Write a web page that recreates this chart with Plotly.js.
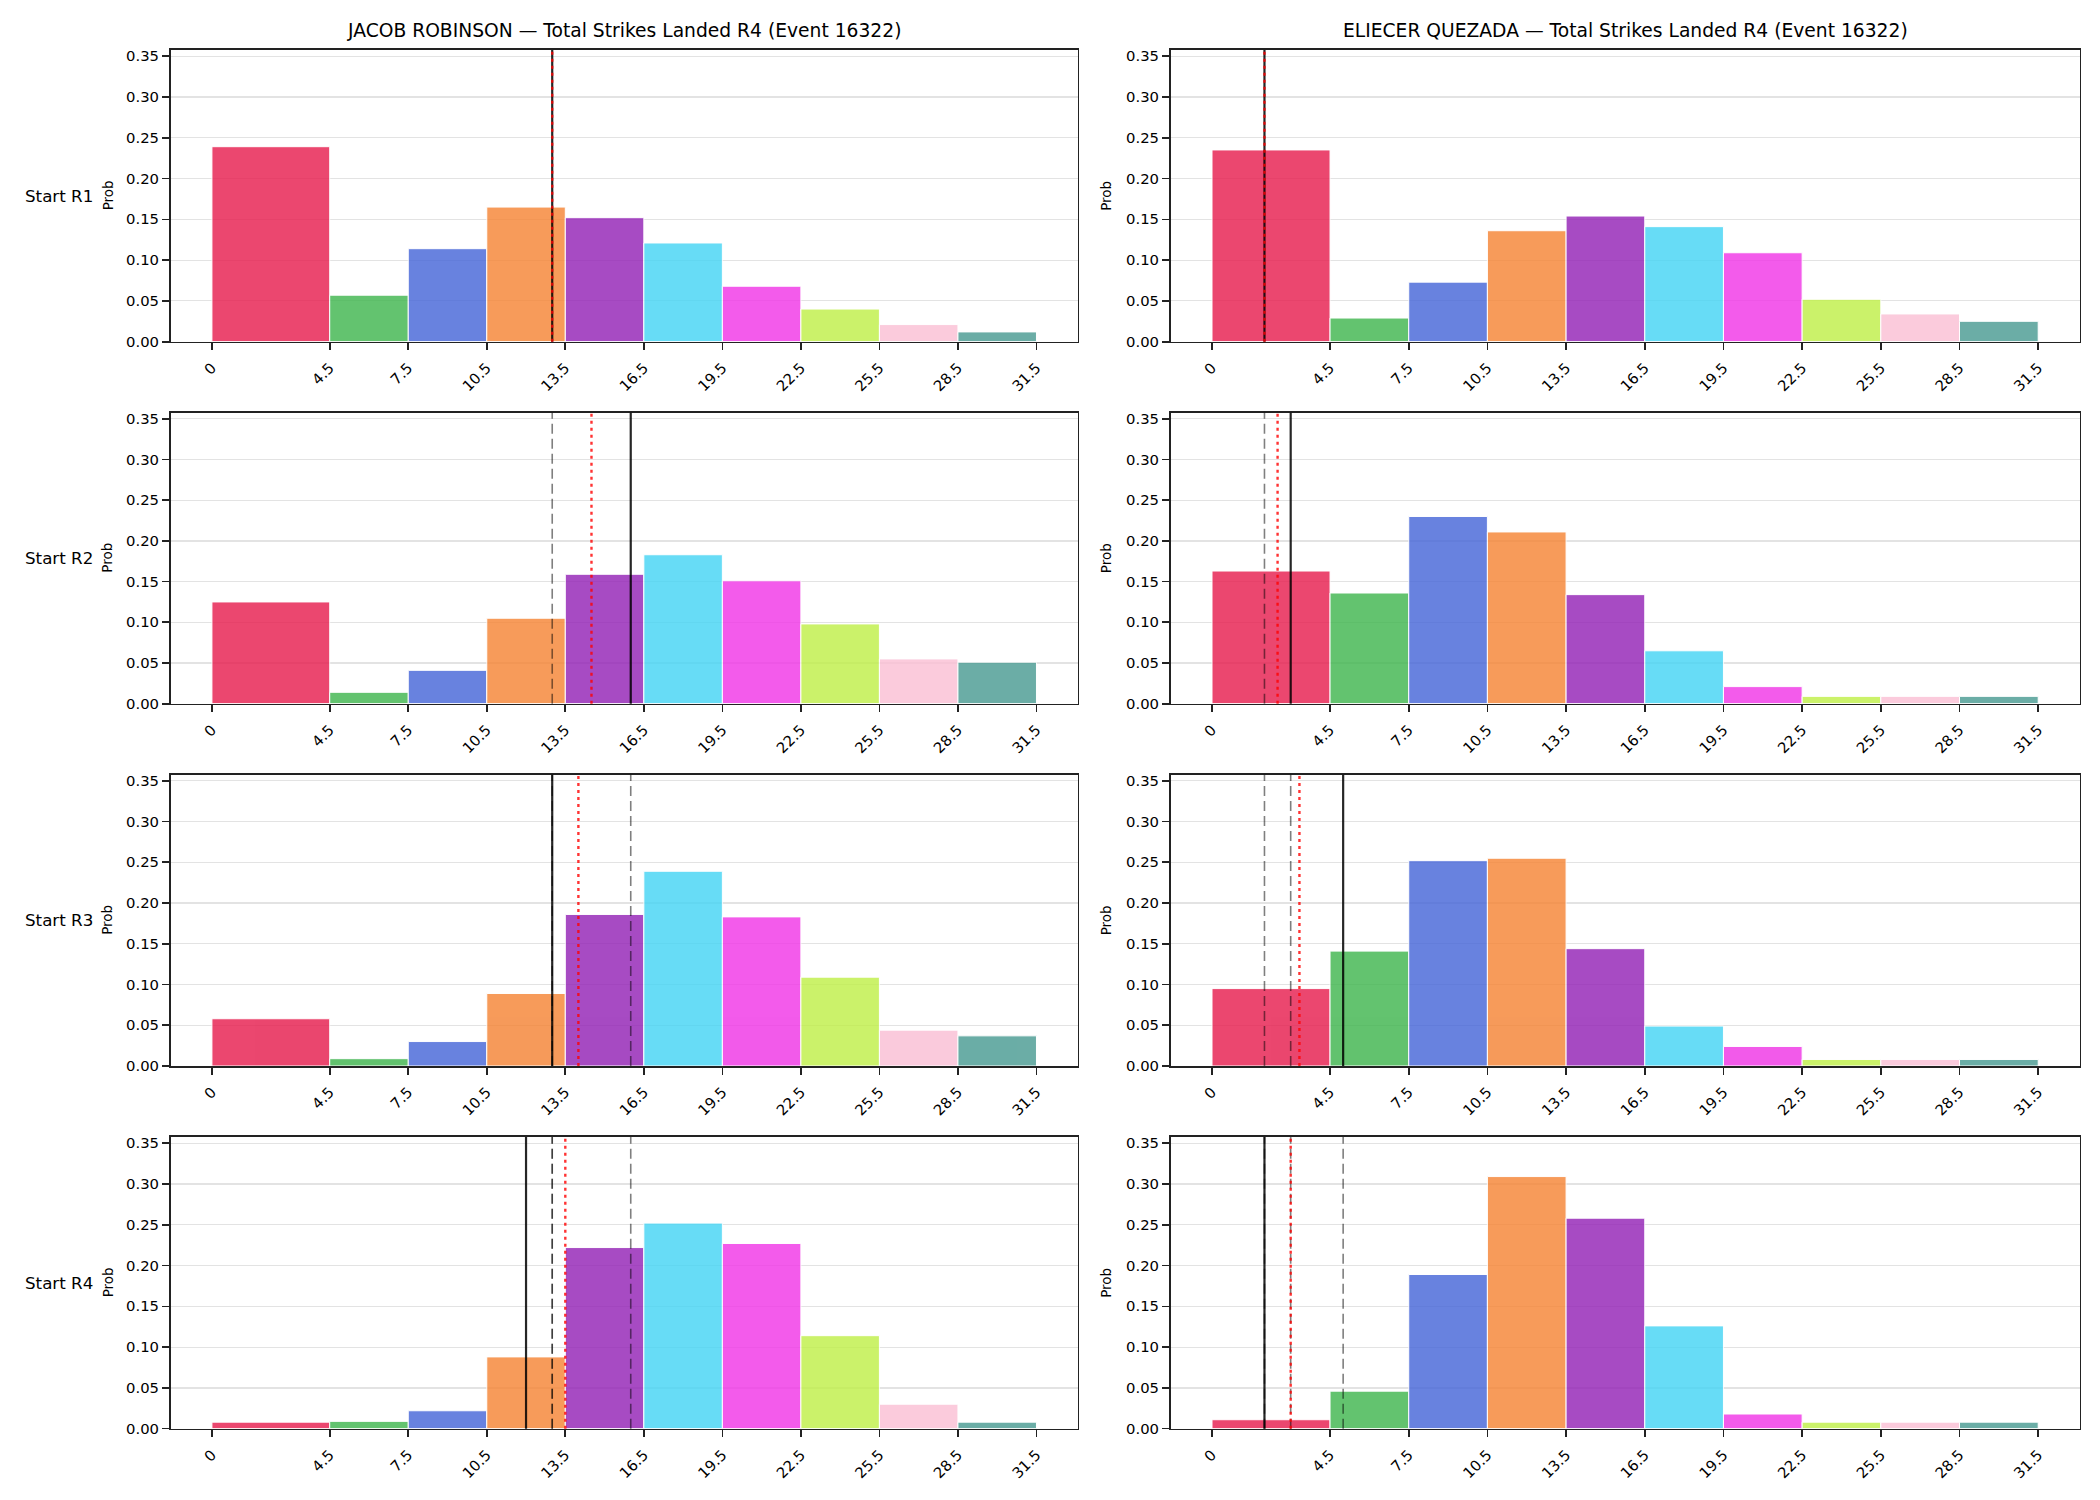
<!DOCTYPE html>
<html><head><meta charset="utf-8">
<script src="https://cdn.plot.ly/plotly-3.0.1.min.js"></script>
<style>html,body{margin:0;padding:0;background:#fff}#chart{width:2100px;height:1500px}</style>
</head><body><div id="chart"></div>
<script>
// ---- data ----
const binEdges = [0, 4.5, 7.5, 10.5, 13.5, 16.5, 19.5, 22.5, 25.5, 28.5, 31.5];
const tickLabels = ['0', '4.5', '7.5', '10.5', '13.5', '16.5', '19.5', '22.5', '25.5', '28.5', '31.5'];
const yTicks = [0, 0.05, 0.10, 0.15, 0.20, 0.25, 0.30, 0.35];
const binColors = ['#e6194b', '#3cb44b', '#4363d8', '#f58231', '#911eb4', '#42d4f4', '#f032e6', '#bfef45', '#fabed4', '#469990'];
const eventId = '16322';
const fighterNames = ['JACOB ROBINSON', 'ELIECER QUEZADA'];
const rowLabels = ['Start R1', 'Start R2', 'Start R3', 'Start R4'];

const robinsonR1 = [0.239, 0.057, 0.114, 0.165, 0.152, 0.121, 0.068, 0.040, 0.021, 0.012];
const robinsonR2 = [0.125, 0.014, 0.041, 0.105, 0.159, 0.183, 0.151, 0.098, 0.055, 0.051];
const robinsonR3 = [0.058, 0.009, 0.030, 0.089, 0.186, 0.239, 0.183, 0.109, 0.044, 0.037];
const robinsonR4 = [0.008, 0.009, 0.022, 0.088, 0.222, 0.252, 0.227, 0.114, 0.030, 0.008];

const quezadaR1 = [0.235, 0.029, 0.073, 0.136, 0.154, 0.141, 0.109, 0.052, 0.034, 0.025];
const quezadaR2 = [0.163, 0.136, 0.230, 0.211, 0.134, 0.065, 0.021, 0.009, 0.009, 0.009];
const quezadaR3 = [0.095, 0.141, 0.252, 0.255, 0.144, 0.049, 0.024, 0.008, 0.008, 0.008];
const quezadaR4 = [0.011, 0.046, 0.189, 0.309, 0.258, 0.126, 0.018, 0.008, 0.008, 0.008];

// actual strikes per round (solid = this round, dashed = earlier rounds), red dotted = running mean
const robinsonActual = [13, 16, 13, 12];
const robinsonMean = [13, 14.5, 14, 13.5];
const quezadaActual = [2, 3, 5, 2];
const quezadaMean = [2, 2.5, 3.333, 3];

// ---- layout geometry ----
const W = 2100, H = 1500;
const colDomains = [[170.7 / W, 1077.7 / W], [1170.7 / W, 2079.5 / W]];
const rowPx = [[50, 341.7], [412.7, 703.7], [774.7, 1066], [1137, 1428.7]];
const xRange = [-1.575, 33.075];
const yRange = [0, 0.3575];

const panels = [
  [robinsonR1, quezadaR1],
  [robinsonR2, quezadaR2],
  [robinsonR3, quezadaR3],
  [robinsonR4, quezadaR4]
];
const actuals = [robinsonActual, quezadaActual];
const means = [robinsonMean, quezadaMean];

const binLefts = binEdges.slice(0, -1);
const binWidths = binEdges.slice(1).map((e, i) => e - binEdges[i]);

const traces = [];
const shapes = [];
const annotations = [];
const layout = {
  width: W, height: H,
  margin: {l: 0, r: 0, t: 0, b: 0},
  paper_bgcolor: '#ffffff', plot_bgcolor: '#ffffff',
  showlegend: false,
  font: {family: 'DejaVu Sans, sans-serif', color: '#000000'},
  shapes: shapes, annotations: annotations
};

const lineCol = '#222222';
for (let r = 0; r < 4; r++) {
  for (let c = 0; c < 2; c++) {
    const k = r * 2 + c + 1;
    const xa = 'x' + k, ya = 'y' + k;
    const xKey = 'xaxis' + (k === 1 ? '' : k), yKey = 'yaxis' + (k === 1 ? '' : k);
    const yDom = [1 - rowPx[r][1] / H, 1 - rowPx[r][0] / H];
    layout[xKey] = {
      domain: colDomains[c], anchor: ya, range: xRange,
      tickmode: 'array', tickvals: binEdges, ticktext: tickLabels, tickangle: -45,
      ticks: 'outside', ticklen: 7, tickwidth: 1.6, tickcolor: lineCol,
      ticklabelstandoff: 3,
      tickfont: {size: 14.8, color: '#000'},
      showline: true, linecolor: lineCol, linewidth: 1.7, mirror: true,
      showgrid: false, zeroline: false, fixedrange: true
    };
    layout[yKey] = {
      domain: yDom, anchor: xa, range: yRange,
      tickmode: 'array', tickvals: yTicks, tickformat: '.2f',
      ticks: 'outside', ticklen: 7, tickwidth: 1.6, tickcolor: lineCol,
      tickfont: {size: 14.8, color: '#000'},
      showline: true, linecolor: lineCol, linewidth: 1.7, mirror: true,
      showgrid: true, gridcolor: '#e3e3e3', gridwidth: 1.2, zeroline: false, fixedrange: true
    };
    traces.push({
      type: 'bar', x: binLefts, y: panels[r][c], width: binWidths, offset: 0,
      xaxis: xa, yaxis: ya, opacity: 0.8,
      marker: {color: binColors, line: {color: '#ffffff', width: 1}},
      hoverinfo: 'skip'
    });
    // dashed lines: earlier rounds' actuals
    actuals[c].slice(0, r).forEach(v => {
      shapes.push({type: 'line', xref: xa, yref: ya + ' domain', x0: v, x1: v, y0: 0, y1: 1,
        layer: 'above', line: {color: 'rgba(0,0,0,0.5)', width: 1.6, dash: '10px,5px'}});
    });
    // solid line: this round's actual
    const a = actuals[c][r];
    shapes.push({type: 'line', xref: xa, yref: ya + ' domain', x0: a, x1: a, y0: 0, y1: 1,
      layer: 'above', line: {color: 'rgba(0,0,0,0.85)', width: 2.2}});
    // red dotted: running mean
    const m = means[c][r];
    shapes.push({type: 'line', xref: xa, yref: ya + ' domain', x0: m, x1: m, y0: 0, y1: 1,
      layer: 'above', line: {color: 'rgba(255,0,0,0.8)', width: 2.4, dash: '3px,4px'}});
    // Prob label
    annotations.push({xref: 'paper', yref: 'paper',
      x: (c === 0 ? 107.5 : 1106) / W, y: (yDom[0] + yDom[1]) / 2,
      xanchor: 'center', yanchor: 'middle', textangle: -90, showarrow: false,
      text: 'Prob', font: {size: 13.5, color: '#000'}});
    if (c === 0) {
      annotations.push({xref: 'paper', yref: 'paper', x: 23 / W, y: (yDom[0] + yDom[1]) / 2,
        xanchor: 'left', yanchor: 'middle', showarrow: false,
        text: rowLabels[r], font: {size: 16.7, color: '#000'}});
    }
  }
}
for (let c = 0; c < 2; c++) {
  annotations.push({xref: 'paper', yref: 'paper',
    x: (colDomains[c][0] + colDomains[c][1]) / 2, y: 1 - 31 / H,
    xanchor: 'center', yanchor: 'middle', showarrow: false,
    text: fighterNames[c] + ' — Total Strikes Landed R4 (Event ' + eventId + ')',
    font: {size: 18.7, color: '#000'}});
}

Plotly.newPlot('chart', traces, layout, {displayModeBar: false, staticPlot: true});
</script>
</body></html>
